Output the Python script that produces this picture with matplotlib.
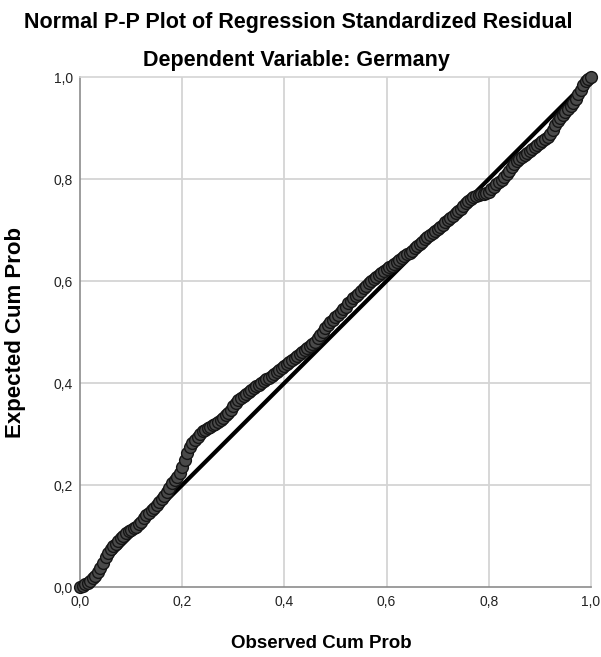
# Normal P-P plot of regression standardized residual (SPSS style)
import matplotlib.pyplot as plt

plt.rcParams['font.family'] = ['Liberation Sans', 'DejaVu Sans']

# Observed cumulative probability
observed = [0.000, 0.005, 0.010, 0.015, 0.020, 0.025, 0.030, 0.035, 0.040, 0.045,
            0.050, 0.055, 0.060, 0.065, 0.070, 0.075, 0.080, 0.085, 0.090, 0.095,
            0.100, 0.105, 0.110, 0.115, 0.120, 0.125, 0.130, 0.135, 0.140, 0.145,
            0.150, 0.155, 0.160, 0.165, 0.170, 0.175, 0.180, 0.185, 0.190, 0.195,
            0.200, 0.205, 0.210, 0.215, 0.220, 0.225, 0.230, 0.235, 0.240, 0.245,
            0.250, 0.255, 0.260, 0.265, 0.270, 0.275, 0.280, 0.285, 0.290, 0.295,
            0.300, 0.305, 0.310, 0.315, 0.320, 0.325, 0.330, 0.335, 0.340, 0.345,
            0.350, 0.355, 0.360, 0.365, 0.370, 0.375, 0.380, 0.385, 0.390, 0.395,
            0.400, 0.405, 0.410, 0.415, 0.420, 0.425, 0.430, 0.435, 0.440, 0.445,
            0.450, 0.455, 0.460, 0.465, 0.470, 0.475, 0.480, 0.485, 0.490, 0.495,
            0.500, 0.505, 0.510, 0.515, 0.520, 0.525, 0.530, 0.535, 0.540, 0.545,
            0.550, 0.555, 0.560, 0.565, 0.570, 0.575, 0.580, 0.585, 0.590, 0.595,
            0.600, 0.605, 0.610, 0.615, 0.620, 0.625, 0.630, 0.635, 0.640, 0.645,
            0.650, 0.655, 0.660, 0.665, 0.670, 0.675, 0.680, 0.685, 0.690, 0.695,
            0.700, 0.705, 0.710, 0.715, 0.720, 0.725, 0.730, 0.735, 0.740, 0.745,
            0.750, 0.755, 0.760, 0.765, 0.770, 0.775, 0.780, 0.785, 0.790, 0.795,
            0.800, 0.805, 0.810, 0.815, 0.820, 0.825, 0.830, 0.835, 0.840, 0.845,
            0.850, 0.855, 0.860, 0.865, 0.870, 0.875, 0.880, 0.885, 0.890, 0.895,
            0.900, 0.905, 0.910, 0.915, 0.920, 0.925, 0.930, 0.935, 0.940, 0.945,
            0.950, 0.955, 0.960, 0.965, 0.970, 0.975, 0.980, 0.985, 0.990, 0.995,
            1.000]

# Expected cumulative probability
expected = [0.000, 0.002, 0.005, 0.008, 0.012, 0.017, 0.022, 0.030, 0.038, 0.048,
            0.058, 0.067, 0.074, 0.080, 0.085, 0.091, 0.096, 0.101, 0.106, 0.109,
            0.112, 0.115, 0.118, 0.123, 0.128, 0.135, 0.141, 0.146, 0.151, 0.155,
            0.160, 0.166, 0.172, 0.179, 0.187, 0.195, 0.204, 0.210, 0.216, 0.223,
            0.236, 0.250, 0.262, 0.274, 0.282, 0.289, 0.295, 0.300, 0.305, 0.308,
            0.311, 0.314, 0.317, 0.320, 0.324, 0.328, 0.332, 0.337, 0.342, 0.348,
            0.355, 0.361, 0.367, 0.371, 0.375, 0.379, 0.383, 0.387, 0.390, 0.394,
            0.397, 0.400, 0.403, 0.407, 0.410, 0.414, 0.417, 0.421, 0.425, 0.430,
            0.434, 0.438, 0.442, 0.446, 0.449, 0.452, 0.456, 0.460, 0.464, 0.468,
            0.472, 0.476, 0.480, 0.488, 0.495, 0.501, 0.507, 0.514, 0.520, 0.524,
            0.529, 0.534, 0.539, 0.545, 0.550, 0.556, 0.561, 0.566, 0.571, 0.575,
            0.580, 0.586, 0.591, 0.596, 0.600, 0.604, 0.608, 0.612, 0.616, 0.620,
            0.623, 0.627, 0.630, 0.634, 0.637, 0.641, 0.645, 0.649, 0.652, 0.655,
            0.659, 0.664, 0.668, 0.673, 0.677, 0.682, 0.686, 0.690, 0.694, 0.698,
            0.702, 0.706, 0.710, 0.715, 0.719, 0.724, 0.728, 0.733, 0.737, 0.742,
            0.747, 0.752, 0.757, 0.761, 0.765, 0.767, 0.769, 0.770, 0.771, 0.773,
            0.775, 0.780, 0.785, 0.790, 0.794, 0.798, 0.803, 0.809, 0.815, 0.823,
            0.830, 0.835, 0.840, 0.844, 0.847, 0.851, 0.854, 0.858, 0.862, 0.866,
            0.870, 0.874, 0.878, 0.883, 0.889, 0.897, 0.905, 0.913, 0.920, 0.926,
            0.932, 0.938, 0.943, 0.950, 0.957, 0.966, 0.975, 0.984, 0.993, 0.997,
            1.000]

ticks = [0.0, 0.2, 0.4, 0.6, 0.8, 1.0]
tick_labels = ["0,0", "0,2", "0,4", "0,6", "0,8", "1,0"]

fig = plt.figure(figsize=(6.01, 6.57), dpi=100)
ax = fig.add_axes([0.1331, 0.1065, 0.8502, 0.7763])

# grid
for t in ticks[1:-1]:
    ax.axvline(t, color="#d4d4d4", lw=1.3, zorder=0)
    ax.axhline(t, color="#d4d4d4", lw=1.3, zorder=0)

# reference diagonal
ax.plot([0, 1], [0, 1], color="black", lw=3.0, zorder=2, solid_capstyle="butt")

# points
ax.plot(observed, expected, linestyle="none", marker="o", markersize=8.5,
        markerfacecolor="#4a4a4a", markeredgecolor="#151515", markeredgewidth=1.0,
        zorder=3, clip_on=False)

ax.set_xlim(0, 1)
ax.set_ylim(0, 1)
ax.set_xticks(ticks)
ax.set_yticks(ticks)
ax.set_xticklabels(tick_labels)
ax.set_yticklabels(tick_labels)
ax.tick_params(length=0, labelsize=10, colors="#222222")
ax.tick_params(axis="x", pad=6)
ax.tick_params(axis="y", pad=5)

for side in ["left", "bottom"]:
    ax.spines[side].set_color("#8c8c8c")
    ax.spines[side].set_linewidth(1.2)
for side in ["top", "right"]:
    ax.spines[side].set_color("#d4d4d4")
    ax.spines[side].set_linewidth(1.2)

ax.set_xlabel("Observed Cum Prob", fontsize=13.5, fontweight="bold", labelpad=19)
ax.xaxis.set_label_coords(0.473, -0.095)
ax.set_ylabel("Expected Cum Prob", fontsize=16, fontweight="bold", labelpad=20)

fig.text(0.497, 0.965, "Normal P-P Plot of Regression Standardized Residual",
         ha="center", va="center", fontsize=15.5, fontweight="bold")
fig.text(0.493, 0.908, "Dependent Variable: Germany",
         ha="center", va="center", fontsize=15.5, fontweight="bold")

plt.savefig("out.png", dpi=100)
